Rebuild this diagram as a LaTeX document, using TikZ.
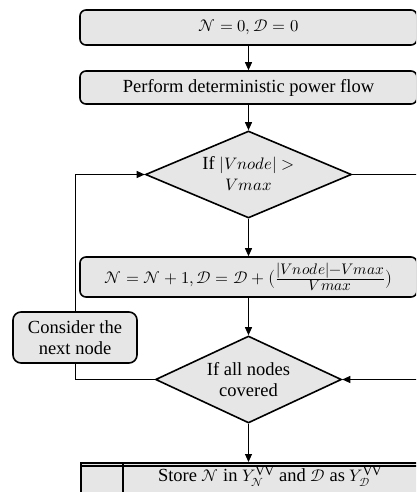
\documentclass[tikz,border=0pt]{standalone}
\usepackage{fontspec}
\usepackage{unicode-math}
\setmainfont{Liberation Serif}
\setmathfont{Latin Modern Math}[Scale=0.9]
\usetikzlibrary{shapes.geometric,arrows.meta}
\definecolor{boxfill}{HTML}{E6E6E6}
\newcommand\fracpart[1]{\hbox{\fontsize{17}{17}\selectfont$#1$}}
\begin{document}
\begin{tikzpicture}[x=1pt,y=-1pt,
  txt/.style={font=\fontsize{18.5}{21.5}\selectfont, align=center},
  proc/.style={draw, line width=1.6pt, rounded corners=6pt, fill=boxfill,
    minimum width=337pt, inner sep=0pt, txt},
  dec/.style={draw, diamond, line width=1.6pt, fill=boxfill, inner sep=0pt},
  conn/.style={line width=0.9pt, -{Triangle[length=8pt,width=7pt]}},
  plain/.style={line width=0.9pt}]
\useasboundingbox (0,0) rectangle (416,492);
\clip (0,0) rectangle (416,492);

\node[proc, minimum height=35pt] (b1) at (248.5,27.5) {$\mathcal{N}=0,\mathcal{D}=0$};
\node[proc, minimum height=33pt] (b2) at (248.5,87.5) {Perform deterministic power flow};
\node[dec, minimum width=206pt, minimum height=87pt] (d1) at (248.5,174.5) {};
\node[txt] (t1) at ([yshift=1pt]d1.center) {If $|Vnode|>$\\$Vmax$};
\node[proc, minimum height=40pt] (b3) at (248.5,277)
  {$\mathcal{N}=\mathcal{N}+1,\mathcal{D}=\mathcal{D}+\bigl(\frac{\fracpart{|Vnode|{-}Vmax}}{\fracpart{Vmax}}\bigr)$};
\node[dec, minimum width=186pt, minimum height=87pt] (d2) at (248.5,379.5) {};
\node[txt] (t2) at (d2.center) {If all nodes\\covered};
\node[proc, rounded corners=8pt, minimum width=124pt, minimum height=51pt] (cn) at (75,337.5) {Consider the\\next node};
\node[draw, line width=1.6pt, fill=boxfill, minimum width=337pt, minimum height=45pt,
  inner sep=0pt, anchor=north west] (st) at (80,462) {};
\node[txt] (t3) at (270,477) {Store $\mathcal{N}$ in $Y_{\mathcal{N}}^{\mathrm{VV}}$ and $\mathcal{D}$ as $Y_{\mathcal{D}}^{\mathrm{VV}}$};
\draw[line width=1.6pt] ([yshift=-4pt]st.north west) -- ([yshift=-4pt]st.north east);
\draw[line width=1.6pt] ([xshift=43pt]st.north west) -- ([xshift=43pt]st.south west);

\coordinate (r1) at (420,174.5);
\coordinate (r2) at (420,379.5);

\draw[conn] (b1) -- (b2);
\draw[conn] (b2) -- (d1);
\draw[conn] (d1) -- (b3);
\draw[conn] (b3) -- (d2);
\draw[conn] (d2.south) -- (d2.south |- st.north);
\draw[plain] (d1.east) -- (r1);
\draw[conn] (r2) -- (d2.east);
\draw[plain] (d2.west) -| (cn.south);
\draw[conn] (cn.north) |- (d1.west);
\end{tikzpicture}
\end{document}
